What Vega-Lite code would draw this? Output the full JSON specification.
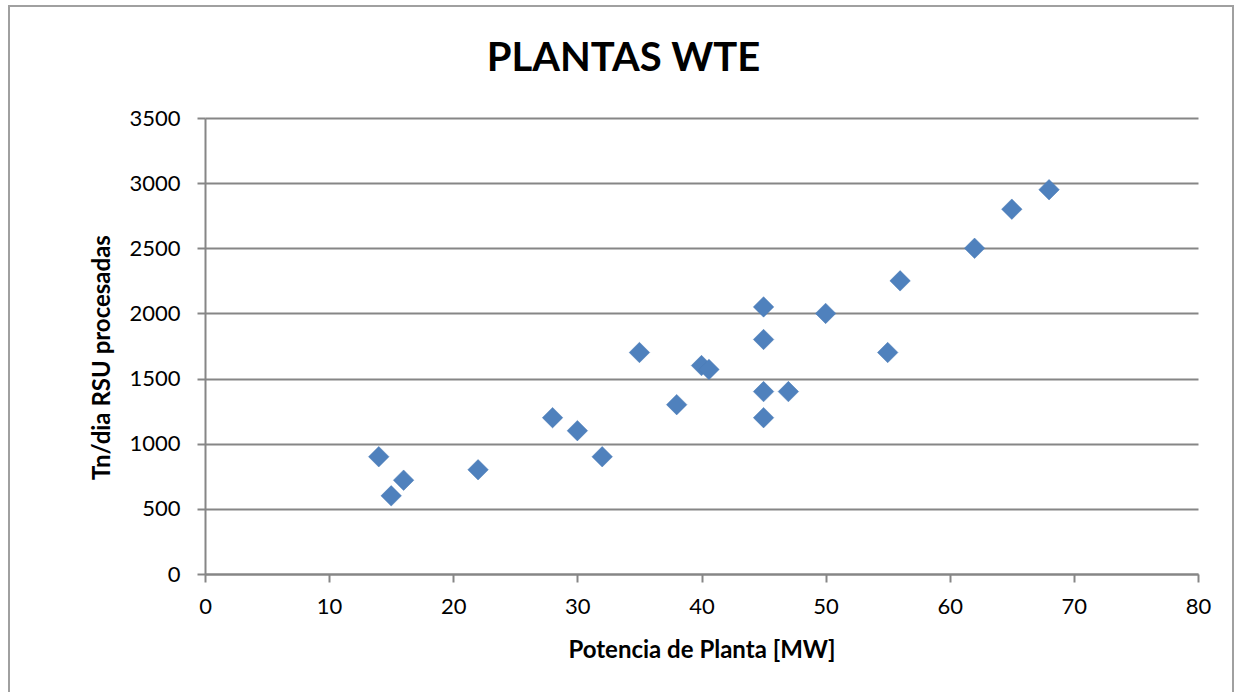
{
  "$schema": "https://vega.github.io/schema/vega-lite/v6.json",
  "width": 993,
  "height": 456,
  "autosize": {"type": "none"},
  "padding": {"left": 205, "top": 118, "right": 42, "bottom": 118},
  "background": "white",
  "title": {
    "text": "PLANTAS WTE",
    "font": "Lato",
    "fontSize": 40,
    "fontWeight": "bold",
    "color": "#000000",
    "anchor": "middle",
    "dx": -78,
    "offset": -74
  },
  "config": {
    "view": {"stroke": null},
    "axis": {
      "labelFont": "Lato",
      "labelFontSize": 22,
      "labelColor": "#000000",
      "labelFlush": false,
      "titleFont": "Lato",
      "titleFontSize": 24,
      "titleFontWeight": "bold",
      "titleColor": "#000000",
      "domainColor": "#868686",
      "domainWidth": 2,
      "tickColor": "#868686",
      "tickWidth": 2,
      "tickSize": 8,
      "gridColor": "#868686",
      "gridWidth": 2
    }
  },
  "layer": [
    {
      "data": {"values": [{"frame": 1}]},
      "mark": {"type": "rect", "fill": null, "stroke": "#a0a0a0", "strokeWidth": 2, "clip": false},
      "encoding": {
        "x": {"datum": -15.79, "type": "quantitative", "scale": {"domain": [0, 80]}},
        "x2": {"datum": 82.82},
        "y": {"datum": 4360, "type": "quantitative", "scale": {"domain": [0, 3500]}},
        "y2": {"datum": -1500}
      }
    },
    {
      "data": {
        "values": [
          {"potencia": 14, "tn": 900},
          {"potencia": 15, "tn": 600},
          {"potencia": 16, "tn": 720},
          {"potencia": 22, "tn": 800},
          {"potencia": 28, "tn": 1200},
          {"potencia": 30, "tn": 1100},
          {"potencia": 32, "tn": 900},
          {"potencia": 35, "tn": 1700},
          {"potencia": 38, "tn": 1300},
          {"potencia": 40, "tn": 1600},
          {"potencia": 40.6, "tn": 1570},
          {"potencia": 45, "tn": 2050},
          {"potencia": 45, "tn": 1800},
          {"potencia": 45, "tn": 1400},
          {"potencia": 45, "tn": 1200},
          {"potencia": 47, "tn": 1400},
          {"potencia": 50, "tn": 2000},
          {"potencia": 55, "tn": 1700},
          {"potencia": 56, "tn": 2250},
          {"potencia": 62, "tn": 2500},
          {"potencia": 65, "tn": 2800},
          {"potencia": 68, "tn": 2950}
        ]
      },
      "mark": {"type": "point", "shape": "diamond", "filled": true, "color": "#4F81BD", "opacity": 1, "size": 420, "stroke": "#4a7ab5", "strokeWidth": 0.5},
      "encoding": {
        "x": {
          "field": "potencia",
          "type": "quantitative",
          "title": "Potencia de Planta [MW]",
          "scale": {"domain": [0, 80], "nice": false},
          "axis": {"values": [0, 10, 20, 30, 40, 50, 60, 70, 80], "format": "d", "grid": false, "labelPadding": 14, "titlePadding": 21}
        },
        "y": {
          "field": "tn",
          "type": "quantitative",
          "title": "Tn/dia RSU  procesadas",
          "scale": {"domain": [0, 3500], "nice": false},
          "axis": {"values": [0, 500, 1000, 1500, 2000, 2500, 3000, 3500], "format": "d", "grid": true, "labelPadding": 17, "titlePadding": 14, "titleY": 239}
        }
      }
    }
  ]
}
